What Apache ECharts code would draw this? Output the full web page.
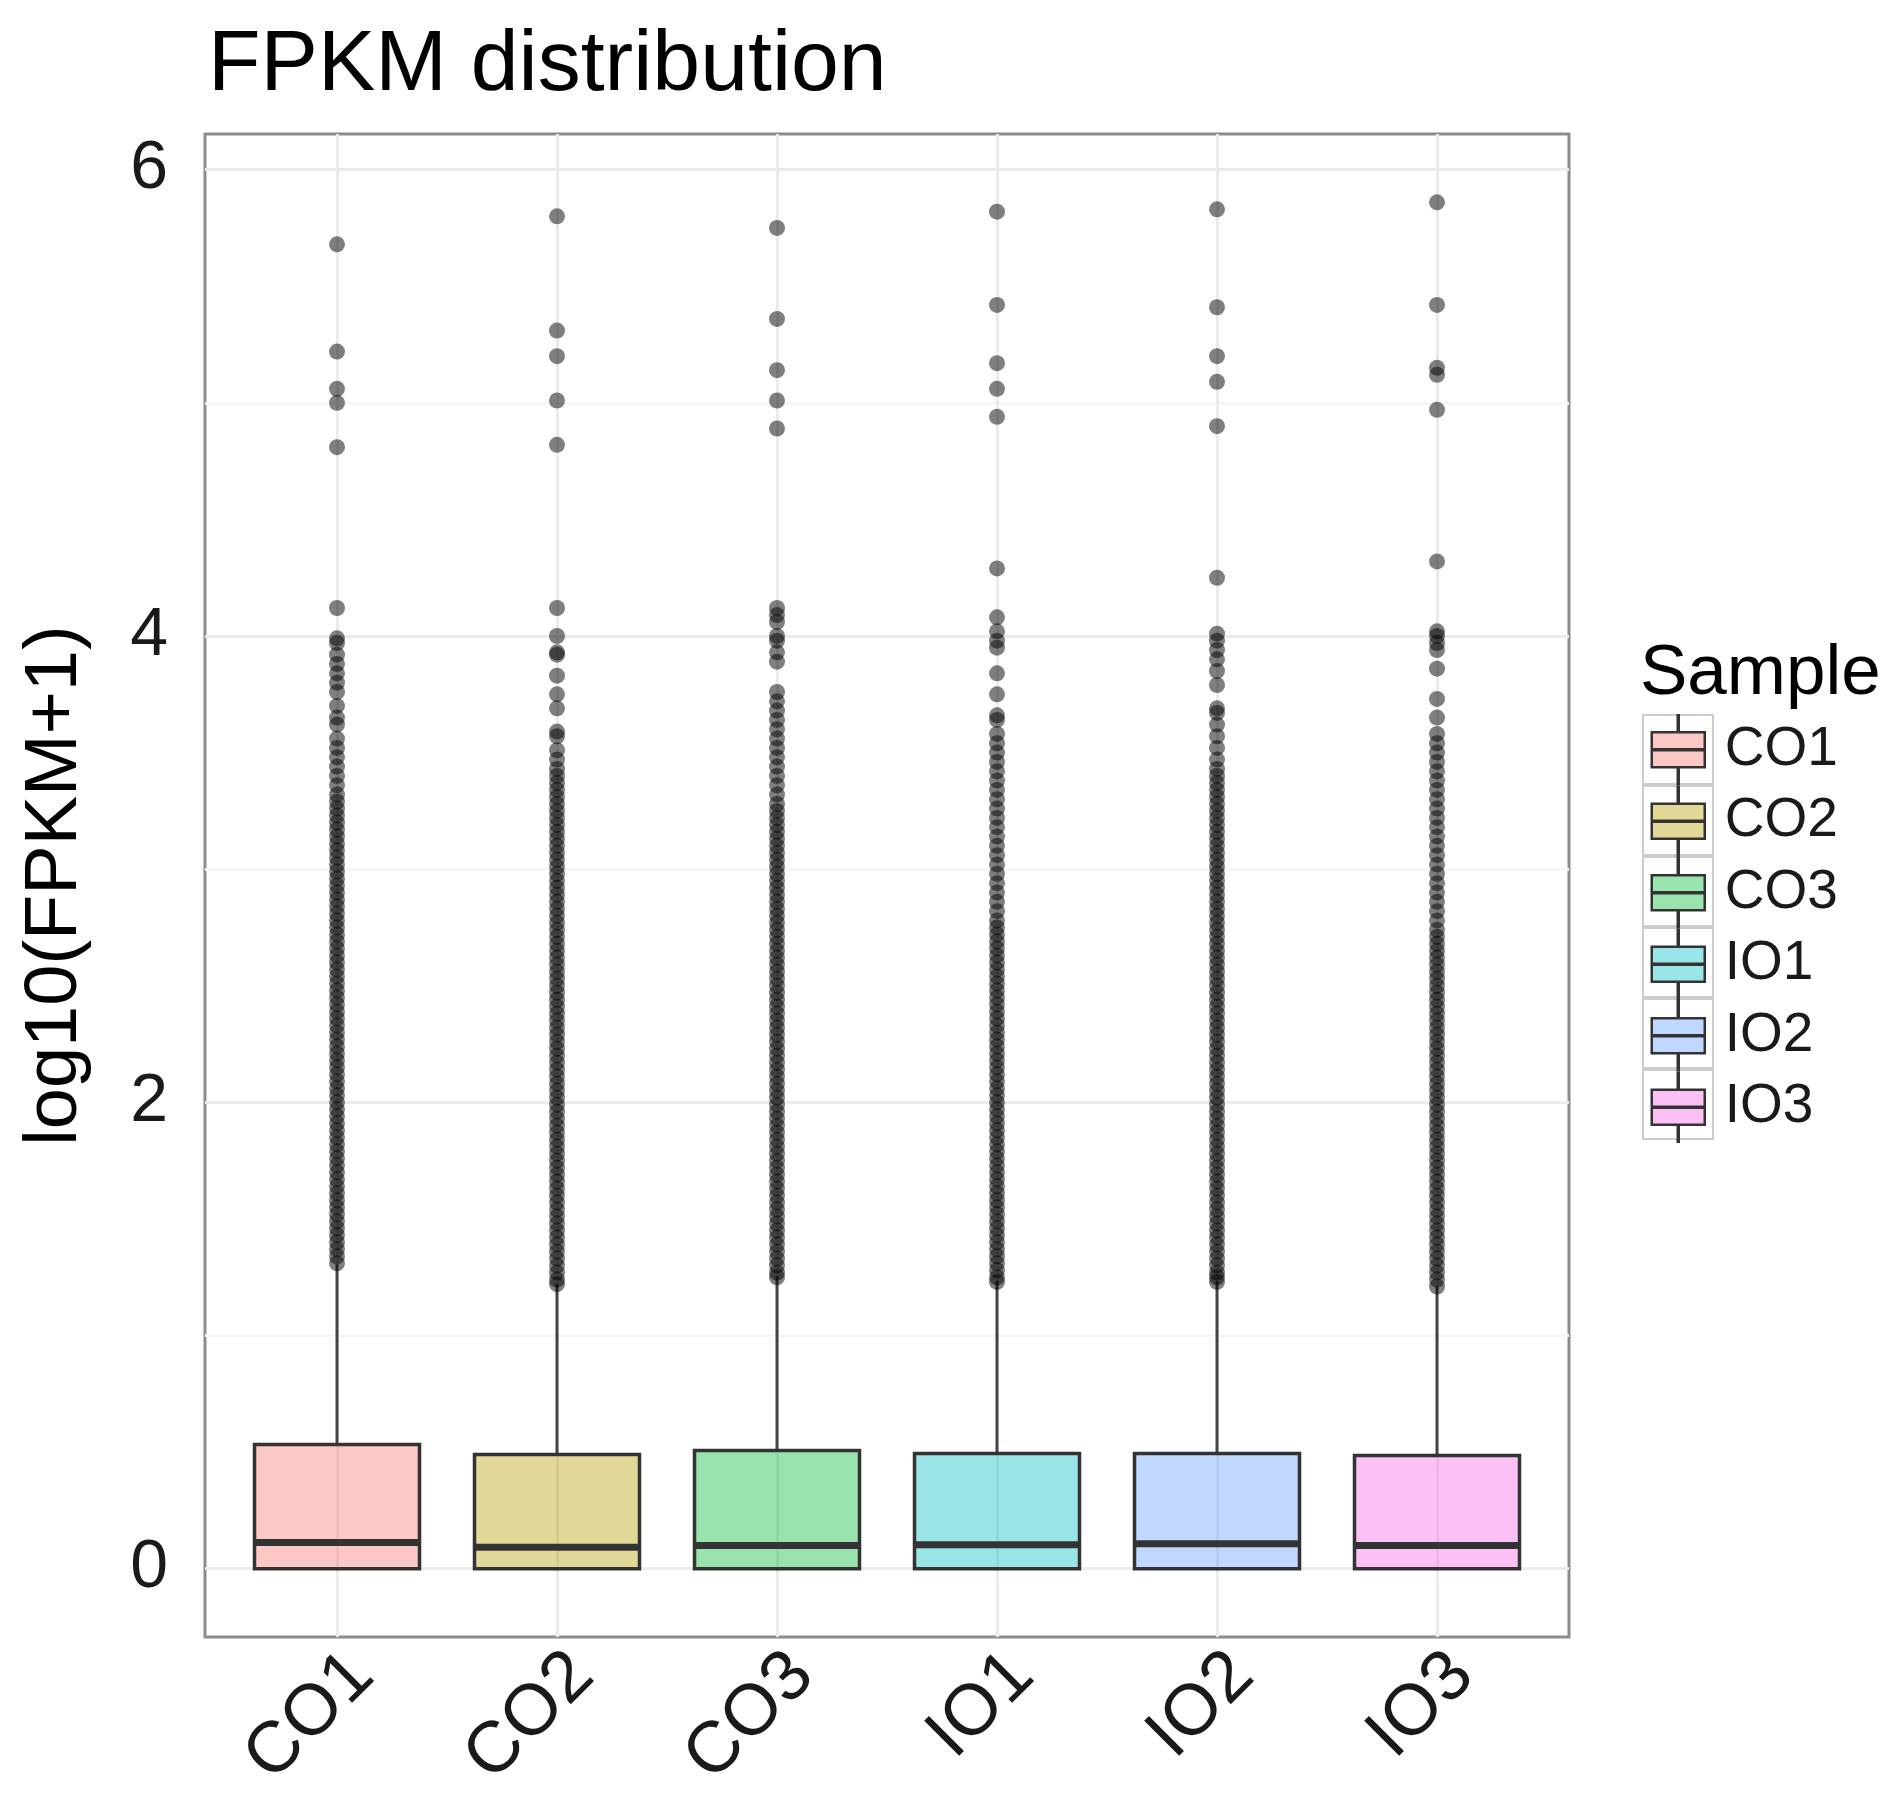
<!DOCTYPE html>
<html>
<head>
    <meta charset="utf-8">
    <title>FPKM distribution</title>
    <script src="https://cdn.jsdelivr.net/npm/echarts@6/dist/echarts.min.js"></script>
    <style>
        body { margin: 0; background: #fff; }
        #chart { width: 1892px; height: 1820px; }
    </style>
</head>
<body>
<div id="chart"></div>
<script>
    // samples and box statistics (log10(FPKM+1))
    var samples = ['CO1', 'CO2', 'CO3', 'IO1', 'IO2', 'IO3'];
    var whiskerLow = [0, 0, 0, 0, 0, 0];
    var q1 = [0, 0, 0, 0, 0, 0];
    var medians = [0.112, 0.092, 0.099, 0.103, 0.107, 0.099];
    var q3 = [0.533, 0.490, 0.507, 0.494, 0.494, 0.485];
    var whiskerHigh = [1.306, 1.222, 1.254, 1.233, 1.233, 1.210];

    // outliers, top to bottom (the lower part is a solid pile of points)
    var outCO1 = [5.68, 5.22, 5.06, 5.00, 4.81, 4.12, 3.99, 3.97, 3.92, 3.88, 3.84, 3.80, 3.76, 3.70, 3.65, 3.62,
        3.56, 3.52, 3.48, 3.44, 3.40, 3.36, 3.32,
        3.29, 3.26, 3.23, 3.20, 3.17, 3.14, 3.11, 3.08, 3.05, 3.02, 2.99, 2.96, 2.93, 2.90, 2.87, 2.84, 2.81, 2.78,
        2.75, 2.72, 2.69, 2.66, 2.63, 2.60, 2.57, 2.54, 2.51, 2.48, 2.45, 2.42, 2.39, 2.36, 2.33, 2.30, 2.27, 2.24,
        2.21, 2.18, 2.15, 2.12, 2.09, 2.06, 2.03, 2.00, 1.97, 1.94, 1.91, 1.88, 1.85, 1.82, 1.79, 1.76, 1.73, 1.70,
        1.67, 1.64, 1.61, 1.58, 1.55, 1.52, 1.49, 1.46, 1.43, 1.40, 1.37, 1.34, 1.31];
    var outCO2 = [5.80, 5.31, 5.20, 5.01, 4.82, 4.12, 4.00, 3.93, 3.92, 3.83, 3.75, 3.69, 3.59, 3.57, 3.51, 3.47,
        3.43, 3.40, 3.37, 3.34, 3.31, 3.28, 3.25, 3.22, 3.19, 3.16, 3.13, 3.10, 3.07, 3.04, 3.01, 2.98, 2.95, 2.92,
        2.89, 2.86, 2.83, 2.80, 2.77, 2.74, 2.71, 2.68, 2.65, 2.62, 2.59, 2.56, 2.53, 2.50, 2.47, 2.44, 2.41, 2.38,
        2.35, 2.32, 2.29, 2.26, 2.23, 2.20, 2.17, 2.14, 2.11, 2.08, 2.05, 2.02, 1.99, 1.96, 1.93, 1.90, 1.87, 1.84,
        1.81, 1.78, 1.75, 1.72, 1.69, 1.66, 1.63, 1.60, 1.57, 1.54, 1.51, 1.48, 1.45, 1.42, 1.39, 1.36, 1.33, 1.30,
        1.27, 1.24, 1.22];
    var outCO3 = [5.75, 5.36, 5.14, 5.01, 4.89, 4.12, 4.09, 4.06, 4.00, 3.98, 3.93, 3.89,
        3.76, 3.72, 3.68, 3.64, 3.60, 3.56, 3.52, 3.48, 3.44, 3.40, 3.36, 3.32, 3.28,
        3.25, 3.22, 3.19, 3.16, 3.13, 3.10, 3.07, 3.04, 3.01, 2.98, 2.95, 2.92, 2.89, 2.86, 2.83, 2.80, 2.77, 2.74,
        2.71, 2.68, 2.65, 2.62, 2.59, 2.56, 2.53, 2.50, 2.47, 2.44, 2.41, 2.38, 2.35, 2.32, 2.29, 2.26, 2.23, 2.20,
        2.17, 2.14, 2.11, 2.08, 2.05, 2.02, 1.99, 1.96, 1.93, 1.90, 1.87, 1.84, 1.81, 1.78, 1.75, 1.72, 1.69, 1.66,
        1.63, 1.60, 1.57, 1.54, 1.51, 1.48, 1.45, 1.42, 1.39, 1.36, 1.33, 1.30, 1.27, 1.25];
    var outIO1 = [5.82, 5.42, 5.17, 5.06, 4.94, 4.29, 4.08, 4.02, 3.98, 3.95, 3.84, 3.75, 3.66, 3.64,
        3.58, 3.54, 3.50, 3.46, 3.42, 3.38, 3.34, 3.30, 3.26, 3.22, 3.18, 3.14, 3.10, 3.06, 3.02, 2.98, 2.94, 2.90,
        2.86, 2.82,
        2.78, 2.75, 2.72, 2.69, 2.66, 2.63, 2.60, 2.57, 2.54, 2.51, 2.48, 2.45, 2.42, 2.39, 2.36, 2.33, 2.30, 2.27,
        2.24, 2.21, 2.18, 2.15, 2.12, 2.09, 2.06, 2.03, 2.00, 1.97, 1.94, 1.91, 1.88, 1.85, 1.82, 1.79, 1.76, 1.73,
        1.70, 1.67, 1.64, 1.61, 1.58, 1.55, 1.52, 1.49, 1.46, 1.43, 1.40, 1.37, 1.34, 1.31, 1.28, 1.25, 1.23];
    var outIO2 = [5.83, 5.41, 5.20, 5.09, 4.90, 4.25, 4.01, 3.98, 3.94, 3.90, 3.85, 3.79, 3.69, 3.67, 3.62, 3.57,
        3.52, 3.47,
        3.43, 3.40, 3.37, 3.34, 3.31, 3.28, 3.25, 3.22, 3.19, 3.16, 3.13, 3.10, 3.07, 3.04, 3.01, 2.98, 2.95, 2.92,
        2.89, 2.86, 2.83, 2.80, 2.77, 2.74, 2.71, 2.68, 2.65, 2.62, 2.59, 2.56, 2.53, 2.50, 2.47, 2.44, 2.41, 2.38,
        2.35, 2.32, 2.29, 2.26, 2.23, 2.20, 2.17, 2.14, 2.11, 2.08, 2.05, 2.02, 1.99, 1.96, 1.93, 1.90, 1.87, 1.84,
        1.81, 1.78, 1.75, 1.72, 1.69, 1.66, 1.63, 1.60, 1.57, 1.54, 1.51, 1.48, 1.45, 1.42, 1.39, 1.36, 1.33, 1.30,
        1.27, 1.25, 1.23];
    var outIO3 = [5.86, 5.42, 5.15, 5.12, 4.97, 4.32, 4.02, 4.00, 3.97, 3.94, 3.86, 3.73, 3.65,
        3.58, 3.54, 3.50, 3.46, 3.42, 3.38, 3.34, 3.30, 3.26, 3.22, 3.18, 3.14, 3.10, 3.06, 3.02, 2.98, 2.94, 2.90,
        2.86, 2.82, 2.78, 2.74,
        2.71, 2.68, 2.65, 2.62, 2.59, 2.56, 2.53, 2.50, 2.47, 2.44, 2.41, 2.38, 2.35, 2.32, 2.29, 2.26, 2.23, 2.20,
        2.17, 2.14, 2.11, 2.08, 2.05, 2.02, 1.99, 1.96, 1.93, 1.90, 1.87, 1.84, 1.81, 1.78, 1.75, 1.72, 1.69, 1.66,
        1.63, 1.60, 1.57, 1.54, 1.51, 1.48, 1.45, 1.42, 1.39, 1.36, 1.33, 1.30, 1.27, 1.24, 1.21];
    var outliers = [outCO1, outCO2, outCO3, outIO1, outIO2, outIO3];

    // axis ticks
    var xTicks = [0, 1, 2, 3, 4, 5];
    var yTicks = [0, 2, 4, 6];
    var yMinor = [1, 3, 5];

    var fills = ['rgba(248,118,109,0.4)', 'rgba(183,159,0,0.4)', 'rgba(0,186,56,0.4)',
        'rgba(0,191,196,0.4)', 'rgba(97,156,255,0.4)', 'rgba(245,100,227,0.4)'];
    var font = "'Liberation Sans', Arial, Helvetica, sans-serif";
    var dark = '#333333';

    // ggplot style box: no whisker caps, thick median
    function renderBox(params, api) {
        var x = api.value(0);
        var lo = api.coord([x, api.value(1)]);
        var b1 = api.coord([x, api.value(2)]);
        var md = api.coord([x, api.value(3)]);
        var b3 = api.coord([x, api.value(4)]);
        var hi = api.coord([x, api.value(5)]);
        var w = api.size([0.75, 0])[0];
        return {
            type: 'group',
            children: [
                {type: 'line', shape: {x1: hi[0], y1: hi[1], x2: b3[0], y2: b3[1]}, style: {stroke: '#444', lineWidth: 3}},
                {type: 'line', shape: {x1: lo[0], y1: lo[1], x2: b1[0], y2: b1[1]}, style: {stroke: '#444', lineWidth: 3}},
                {type: 'rect', shape: {x: b3[0] - w / 2, y: b3[1], width: w, height: b1[1] - b3[1]},
                    style: {fill: fills[params.seriesIndex - 1], stroke: dark, lineWidth: 3.5}},
                {type: 'line', shape: {x1: md[0] - w / 2, y1: md[1], x2: md[0] + w / 2, y2: md[1]},
                    style: {stroke: dark, lineWidth: 7}}
            ]
        };
    }

    var boxIcon = 'path://M26,0L27,0L27,17L26,17Z M0,17L53,17L53,52L0,52Z M26,52L27,52L27,69L26,69Z M0,34L53,34L53,35L0,35Z';

    var gridLines = [];
    yTicks.forEach(function (v) {
        gridLines.push({yAxis: v, lineStyle: {color: '#ebebeb', width: 3, type: 'solid'}});
    });
    yMinor.forEach(function (v) {
        gridLines.push({yAxis: v, lineStyle: {color: '#f6f6f6', width: 3, type: 'solid'}});
    });
    xTicks.forEach(function (v) {
        gridLines.push({xAxis: v, lineStyle: {color: '#ebebeb', width: 3, type: 'solid'}});
    });

    var series = [{
        name: 'grid',
        type: 'line',
        data: [],
        z: 1,
        silent: true,
        markLine: {
            silent: true,
            symbol: 'none',
            z: 1,
            label: {show: false},
            data: gridLines
        }
    }];
    samples.forEach(function (s, i) {
        series.push({
            name: s,
            type: 'custom',
            z: 10,
            itemStyle: {color: fills[i]},
            encode: {x: 0, y: [1, 2, 3, 4, 5]},
            renderItem: renderBox,
            data: [[i, whiskerLow[i], q1[i], medians[i], q3[i], whiskerHigh[i]]]
        });
    });
    var pts = [];
    outliers.forEach(function (arr, i) {
        arr.forEach(function (v) { pts.push([i, v]); });
    });
    series.push({
        name: 'outliers',
        type: 'scatter',
        z: 12,
        symbolSize: 16,
        itemStyle: {color: '#000', opacity: 0.5},
        data: pts
    });

    var chart = echarts.init(document.getElementById('chart'));
    chart.setOption({
        animation: false,
        backgroundColor: '#fff',
        textStyle: {fontFamily: font},
        title: [{
            text: 'FPKM distribution',
            left: 203,
            top: 18,
            textStyle: {fontSize: 86, fontWeight: 'normal', color: '#000', fontFamily: font}
        }, {
            text: 'Sample',
            left: 1635,
            top: 634,
            textStyle: {fontSize: 71, fontWeight: 'normal', color: '#000', fontFamily: font}
        }],
        legend: [{
            // key frames
            z: 3,
            selectedMode: false,
            orient: 'vertical',
            left: 1637,
            top: 709,
            itemWidth: 70,
            itemHeight: 69,
            itemGap: 0,
            icon: 'rect',
            itemStyle: {color: '#ffffff', borderColor: '#cccccc', borderWidth: 2},
            textStyle: {fontSize: 55, color: 'rgba(0,0,0,0)', fontFamily: font},
            data: samples
        }, {
            z: 5,
            selectedMode: false,
            orient: 'vertical',
            left: 1645.5,
            top: 709,
            itemWidth: 53,
            itemHeight: 69,
            itemGap: 0,
            itemStyle: {borderColor: dark, borderWidth: 2.5},
            textStyle: {fontSize: 55, color: '#1a1a1a', fontFamily: font, padding: [0, 0, 0, 15]},
            data: samples.map(function (s) { return {name: s, icon: boxIcon}; })
        }],
        grid: {
            left: 205,
            right: 323,
            top: 134,
            bottom: 183,
            show: true,
            backgroundColor: '#fff',
            borderColor: '#8c8c8c',
            borderWidth: 3
        },
        xAxis: {
            type: 'value',
            min: -0.6,
            max: 5.6,
            axisLine: {show: false},
            splitLine: {show: false},
            axisTick: {show: true, length: 18, customValues: xTicks, lineStyle: {color: dark, width: 3}},
            axisLabel: {
                customValues: xTicks,
                rotate: 45,
                align: 'right',
                verticalAlign: 'top',
                margin: 2,
                fontSize: 72,
                color: '#1a1a1a',
                fontFamily: font,
                formatter: function (v) { return samples[Math.round(v)]; }
            }
        },
        yAxis: {
            type: 'value',
            min: -0.293,
            max: 6.153,
            name: 'log10(FPKM+1)',
            nameLocation: 'middle',
            nameRotate: 90,
            nameGap: 112,
            nameTextStyle: {fontSize: 74, color: '#000', fontFamily: font},
            axisLine: {show: false},
            splitLine: {show: false},
            axisTick: {show: true, length: 18, customValues: yTicks, lineStyle: {color: dark, width: 3}},
            axisLabel: {
                customValues: yTicks,
                margin: 37,
                fontSize: 68,
                color: '#1a1a1a',
                fontFamily: font
            }
        },
        series: series
    });
</script>
</body>
</html>
